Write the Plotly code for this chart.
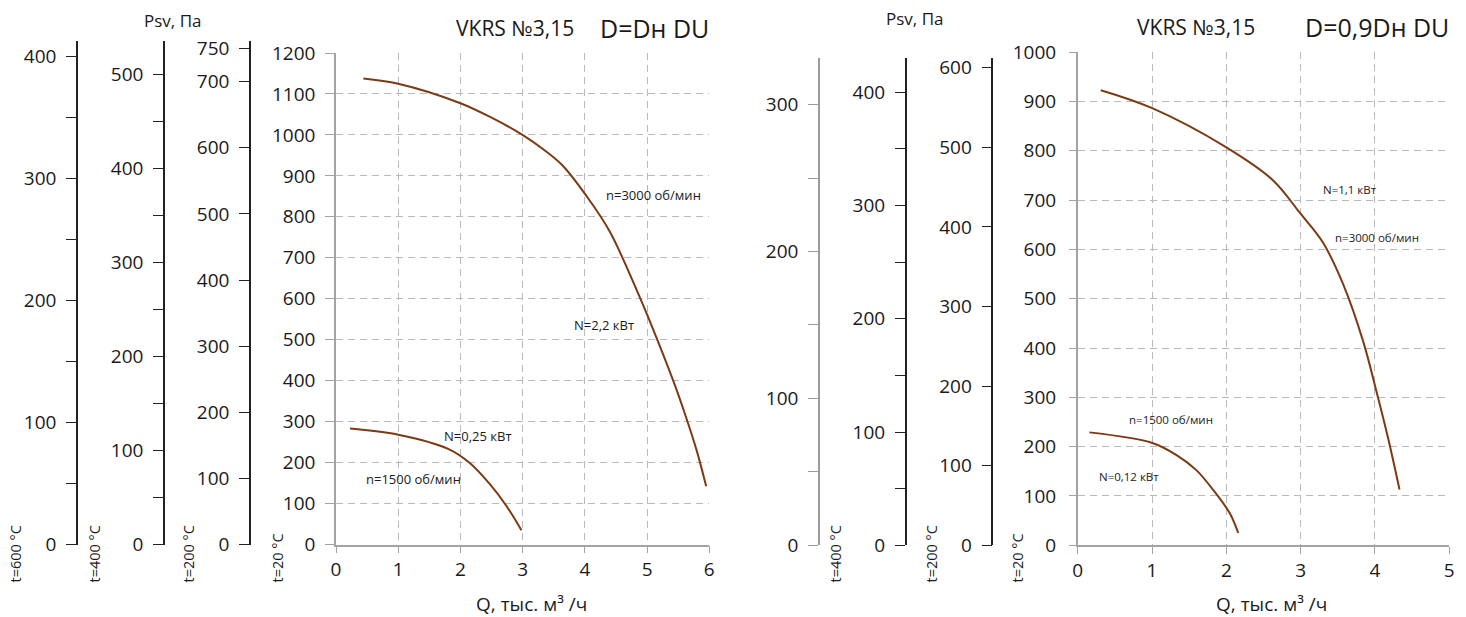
import plotly.graph_objects as go

W, H = 1466, 617

# ---------------- data ----------------
q_left_3000 = [0.44, 1.00, 1.99, 2.50, 3.01, 3.33, 3.63, 4.03, 4.40, 4.89, 5.05, 5.42, 5.61, 5.80, 5.95]
p_left_3000 = [1138, 1125, 1078, 1042, 999, 965, 927, 850, 764, 601, 543, 400, 318, 228, 142]
q_left_1500 = [0.225, 1.00, 1.81, 2.15, 2.48, 2.74, 2.98]
p_left_1500 = [283, 268, 233, 199, 146, 94, 35]

q_right_3000 = [0.31, 0.995, 2.00, 2.63, 2.99, 3.30, 3.57, 3.84, 4.02, 4.18, 4.33]
p_right_3000 = [923, 887, 807, 740, 674, 614, 530, 414, 312, 215, 113]
q_right_1500 = [0.157, 0.995, 1.33, 1.60, 1.87, 2.05, 2.16]
p_right_1500 = [229, 208, 183, 152, 103, 64, 25]

temps_aux = [600, 400, 200]          # auxiliary scales, deg C
t_ref = 20
left_pmax = 1200
right_pmax = 1000
left_x_ticks = [0, 1, 2, 3, 4, 5, 6]
right_x_ticks = [0, 1, 2, 3, 4, 5]
left_aux_tickvals = {600: [0, 100, 200, 300, 400], 400: [0, 100, 200, 300, 400, 500],
                     200: [0, 100, 200, 300, 400, 500, 600, 700, 750]}
right_aux_tickvals = {600: [0, 100, 200, 300], 400: [0, 100, 200, 300, 400],
                      200: [0, 100, 200, 300, 400, 500, 600]}
aux_minor = {600: True, 400: True, 200: False}

# ---------------- style ----------------
FONT = "Open Sans"
CURVE = "#7a3b14"
GRID = "#b9b9b9"
AXG = "#a3a3a3"
TXT = "#1a1a1a"
TICK_SIZE = 19

def fx(px):
    return px / W

def fy(py):
    return 1 - py / H

fig = go.Figure()

# main curves
for q, p, xa, ya in [(q_left_3000, p_left_3000, "x", "y"), (q_left_1500, p_left_1500, "x", "y"),
                     (q_right_3000, p_right_3000, "x2", "y2"), (q_right_1500, p_right_1500, "x2", "y2")]:
    fig.add_trace(go.Scatter(x=q, y=p, xaxis=xa, yaxis=ya, mode="lines",
                             line=dict(color=CURVE, width=2, shape="spline", smoothing=1.0),
                             hoverinfo="skip", showlegend=False))

main_common = dict(showline=True, linecolor=AXG, linewidth=1.5, ticks="outside", tickcolor=AXG,
                   showgrid=True, gridcolor=GRID, griddash="7px,5px", gridwidth=1.3, zeroline=False,
                   automargin=False,
                   tickfont=dict(family=FONT, size=TICK_SIZE, color=TXT))

layout = dict(
    width=W, height=H, margin=dict(l=0, r=0, t=0, b=0, pad=0, autoexpand=False),
    paper_bgcolor="white", plot_bgcolor="rgba(0,0,0,0)", showlegend=False,
    font=dict(family=FONT, color=TXT),
    xaxis=dict(domain=[fx(336), fx(709.3)], range=[0, 6], anchor="y", tickvals=left_x_ticks,
               ticklen=7, **main_common),
    yaxis=dict(domain=[fy(544.5), fy(53)], range=[0, left_pmax], anchor="x", dtick=100,
               ticklen=9, ticklabelstandoff=6, **main_common),
    xaxis2=dict(domain=[fx(1077.7), fx(1449.3)], range=[0, 5], anchor="y2", tickvals=right_x_ticks,
                ticklen=7, **main_common),
    yaxis2=dict(domain=[fy(545.3), fy(52.2)], range=[0, right_pmax], anchor="x2", dtick=100,
                ticklen=7, ticklabelstandoff=9, **main_common),
    xaxis3=dict(domain=[fx(336), fx(709.3)], range=[0, 6], visible=False, anchor="y3", automargin=False),
    xaxis4=dict(domain=[fx(1077.7), fx(1449.3)], range=[0, 5], visible=False, anchor="y6", automargin=False),
)

# auxiliary temperature scales
left_pos = {600: 77, 400: 164, 200: 250}
right_pos = {600: 819, 400: 905.7, 200: 992.3}
right_col = {600: "#9a9a9a", 400: "#222222", 200: "#222222"}
left_ext = (544.5 - 41.2) / (544.5 - 53)
right_ext = (545.3 - 58) / (545.3 - 52.2)

n = 3
for side in ["left", "right"]:
    for t in temps_aux:
        ratio = (273 + t_ref) / (273 + t)
        if side == "left":
            rng = left_pmax * ratio * left_ext
            dom = [fy(544.5), fy(41.2)]
            pos = fx(left_pos[t])
            tv = left_aux_tickvals[t]
            col = "#222222"
            xa = "x3"
        else:
            rng = right_pmax * ratio * right_ext
            dom = [fy(545.3), fy(58)]
            pos = fx(right_pos[t])
            tv = right_aux_tickvals[t]
            col = right_col[t]
            xa = "x4"
        ax = dict(domain=dom, range=[0, rng], anchor="free", position=pos, side="left",
                  showline=True, linecolor=col, linewidth=1.5, ticks="outside", ticklen=10,
                  tickcolor=col, tickwidth=1.3, tickmode="array", tickvals=tv,
                  ticklabelstandoff=6, showgrid=False, zeroline=False, automargin=False,
                  tickfont=dict(family=FONT, size=TICK_SIZE, color=TXT))
        if aux_minor[t]:
            ax["minor"] = dict(dtick=50, tick0=0, ticks="outside", ticklen=10, tickcolor=col,
                               tickwidth=1.3, showgrid=False)
        layout[f"yaxis{n}"] = ax
        fig.add_trace(go.Scatter(x=[0], y=[0], xaxis=xa, yaxis=f"y{n}", mode="markers",
                                 marker=dict(opacity=0), hoverinfo="skip", showlegend=False))
        n += 1

fig.update_layout(**layout)

def ann(text, x, y, size, **kw):
    fig.add_annotation(text=text, xref="paper", yref="paper", x=fx(x), y=fy(y),
                       showarrow=False, font=dict(family=FONT, size=size, color=TXT),
                       xanchor=kw.pop("xanchor", "center"), yanchor=kw.pop("yanchor", "middle"), **kw)

# titles
ann("Psv, Па", 172.5, 20.4, 17)
ann("Psv, Па", 914, 18.8, 17)
ann("VKRS №3,15", 515, 28, 21)
ann("D=Dн DU", 654.7, 28, 25)
ann("VKRS №3,15", 1196, 26.7, 21)
ann("D=0,9Dн DU", 1377, 26.7, 25)

# x titles
ann("Q, тыс. м³ /ч", 531.7, 604, 19)
ann("Q, тыс. м³ /ч", 1271.7, 604, 19)

# curve labels
ann("n=3000 об/мин", 653.8, 195, 13)
ann("N=2,2 кВт", 604, 324.8, 13)
ann("N=0,25 кВт", 478, 435.5, 13)
ann("n=1500 об/мин", 413, 478.6, 13)
ann("N=1,1 кВт", 1349.5, 189.5, 11.5)
ann("n=3000 об/мин", 1376.7, 237.3, 11.5)
ann("n=1500 об/мин", 1171, 419.8, 11.5)
ann("N=0,12 кВт", 1128.8, 476.7, 11.5)

# temperature labels
for txt, x in [("t=600 °C", 15), ("t=400 °C", 94), ("t=200 °C", 188), ("t=20 °C", 277),
               ("t=400 °C", 835), ("t=200 °C", 931), ("t=20 °C", 1017)]:
    ann(txt, x, 585, 14.5, textangle=-90, yanchor="bottom")

fig.write_html("out.html")
